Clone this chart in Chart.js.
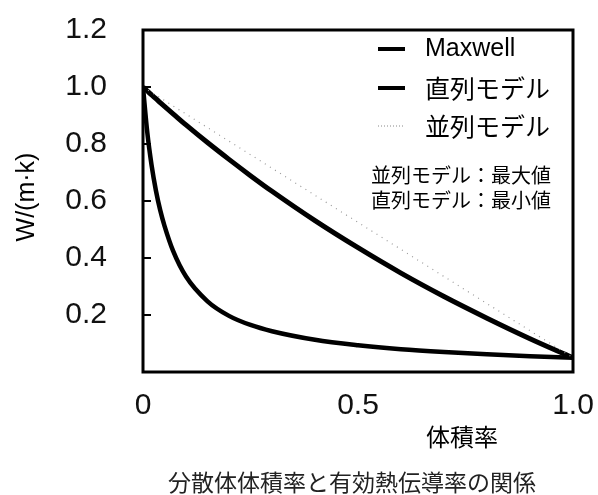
<!DOCTYPE html>
<html>
<head>
<meta charset="utf-8">
<script src="https://cdn.jsdelivr.net/npm/chart.js@4/dist/chart.umd.min.js"></script>
<style>
  html, body { margin: 0; padding: 0; background: #fff; }
  #wrap { width: 598px; height: 495px; position: relative; }
</style>
</head>
<body>
<div id="wrap"><canvas id="canvas"></canvas></div>
<script>
// volume fraction (x) and conductivity W/(m·k)
var phi = [0, 0.01, 0.02, 0.03, 0.04, 0.05, 0.07, 0.1, 0.15, 0.2, 0.25, 0.3, 0.4, 0.5, 0.6, 0.7, 0.8, 0.9, 1.0];
var maxwell = [1.0, 0.986, 0.972, 0.959, 0.945, 0.932, 0.906, 0.867, 0.805, 0.746, 0.689, 0.634, 0.531, 0.436, 0.347, 0.265, 0.189, 0.117, 0.05];
var seriesModel = [1.0, 0.84, 0.725, 0.637, 0.568, 0.513, 0.425, 0.335, 0.248, 0.197, 0.165, 0.143, 0.113, 0.094, 0.08, 0.07, 0.062, 0.055, 0.05];
var parallelPhi = [0, 1.0];
var parallelModel = [1.0, 0.05];

var legendLabels = ['Maxwell', '直列モデル', '並列モデル'];
var noteLines = ['並列モデル：最大値', '直列モデル：最小値'];
var yTitle = 'W/(m·k)';
var xTitle = '体積率';
var caption = '分散体体積率と有効熱伝導率の関係';
var yTicks = [0.2, 0.4, 0.6, 0.8, 1.0, 1.2];
var xTicks = [0, 0.5, 1.0];
var xTickLabels = ['0', '0.5', '1.0'];

function pts(xs, ys) {
    var out = [];
    for (var i = 0; i < xs.length; i++) out.push({x: xs[i], y: ys[i]});
    return out;
}

var SANS = '"Liberation Sans", Arial, sans-serif';
var CJK = '"Noto Sans CJK JP", sans-serif';

var extras = {
    id: 'extras',
    afterDraw: function (chart) {
        var ctx = chart.ctx;
        var a = chart.chartArea;
        var ys = chart.scales.y;
        ctx.save();
        // frame
        ctx.strokeStyle = '#000';
        ctx.lineWidth = 3;
        ctx.strokeRect(a.left, a.top, a.right - a.left, a.bottom - a.top);
        // inward ticks on the y axis
        ctx.lineWidth = 2;
        yTicks.forEach(function (v) {
            var py = ys.getPixelForValue(v);
            ctx.beginPath();
            ctx.moveTo(a.left, py);
            ctx.lineTo(a.left + 8, py);
            ctx.stroke();
        });
        // legend
        var lx0 = 378, lx1 = 405, tx = 425;
        var rows = [49, 88, 126];
        ctx.textBaseline = 'middle';
        ctx.fillStyle = '#000';
        for (var i = 0; i < 3; i++) {
            ctx.beginPath();
            if (i === 2) {
                ctx.strokeStyle = '#888';
                ctx.lineWidth = 1;
                ctx.setLineDash([1, 2]);
            } else {
                ctx.strokeStyle = '#000';
                ctx.lineWidth = 4;
                ctx.setLineDash([]);
            }
            ctx.moveTo(lx0, rows[i]);
            ctx.lineTo(lx1, rows[i]);
            ctx.stroke();
            ctx.setLineDash([]);
            ctx.font = (i === 0 ? '25px ' + SANS : '25px ' + CJK);
            ctx.textAlign = 'left';
            ctx.fillText(legendLabels[i], tx, rows[i]);
        }
        // notes
        ctx.font = '20px ' + CJK;
        ctx.fillText(noteLines[0], 371, 175);
        ctx.fillText(noteLines[1], 371, 200);
        // x title and caption
        ctx.textAlign = 'center';
        ctx.font = '24px ' + CJK;
        ctx.fillText(xTitle, 462, 437);
        ctx.fillStyle = '#222';
        ctx.font = '23px ' + CJK;
        ctx.fillText(caption, 352, 482);
        // y title
        ctx.fillStyle = '#000';
        ctx.translate(27, 197);
        ctx.rotate(-Math.PI / 2);
        ctx.font = '25px ' + SANS;
        ctx.fillText(yTitle, 0, 0);
        ctx.restore();
    }
};

Chart.defaults.font.family = SANS;
Chart.defaults.color = '#111';

new Chart(document.getElementById('canvas'), {
    type: 'line',
    data: {
        datasets: [{
            label: legendLabels[2],
            data: pts(parallelPhi, parallelModel),
            borderColor: '#999',
            borderWidth: 1.2,
            borderDash: [1, 5],
            pointRadius: 0,
            fill: false
        }, {
            label: legendLabels[1],
            data: pts(phi, seriesModel),
            borderColor: '#000',
            borderWidth: 4.5,
            pointRadius: 0,
            cubicInterpolationMode: 'monotone',
            fill: false
        }, {
            label: legendLabels[0],
            data: pts(phi, maxwell),
            borderColor: '#000',
            borderWidth: 5,
            pointRadius: 0,
            cubicInterpolationMode: 'monotone',
            fill: false
        }]
    },
    options: {
        responsive: true,
        maintainAspectRatio: false,
        animation: false,
        layout: {padding: {top: 30, right: 25, left: 0, bottom: 0}},
        plugins: {legend: {display: false}, tooltip: {enabled: false}},
        scales: {
            x: {
                type: 'linear',
                min: 0,
                max: 1,
                afterFit: function (s) {
                    s.height = 123;
                    s.paddingLeft = 0;
                    s.paddingRight = 0;
                },
                afterBuildTicks: function (s) {
                    s.ticks = xTicks.map(function (v) { return {value: v}; });
                },
                grid: {display: false, drawTicks: false},
                border: {display: false},
                ticks: {
                    padding: 16,
                    font: {size: 30},
                    maxRotation: 0,
                    callback: function (v) { return xTickLabels[xTicks.indexOf(v)]; }
                }
            },
            y: {
                min: 0,
                max: 1.2,
                afterFit: function (s) {
                    s.width = 143;
                    s.paddingTop = 0;
                    s.paddingBottom = 0;
                },
                afterBuildTicks: function (s) {
                    s.ticks = yTicks.map(function (v) { return {value: v}; });
                },
                grid: {display: false, drawTicks: false},
                border: {display: false},
                ticks: {
                    padding: 36,
                    font: {size: 30},
                    callback: function (v) { return v.toFixed(1); }
                }
            }
        }
    },
    plugins: [extras]
});
</script>
</body>
</html>
